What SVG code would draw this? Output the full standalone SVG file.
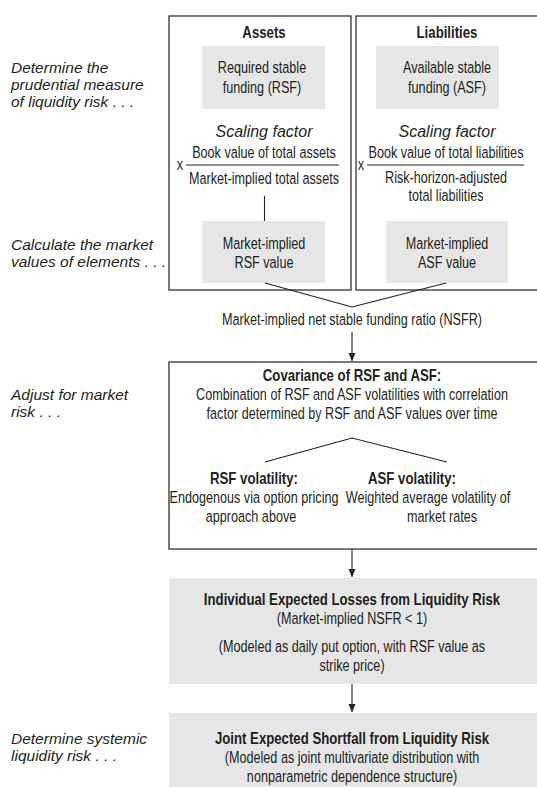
<svg xmlns="http://www.w3.org/2000/svg" width="537" height="787" viewBox="0 0 537 787">
<defs>
<style>
.t{font-family:"Liberation Sans",Arial,sans-serif;font-size:16.5px;fill:#231f20;text-anchor:middle}
.b{font-weight:bold}
.i{font-family:"Liberation Sans",Arial,sans-serif;font-style:italic;font-size:15.5px;fill:#231f20}
.si{font-family:"Liberation Sans",Arial,sans-serif;font-style:italic;font-size:16px;fill:#231f20;text-anchor:middle}
.box{fill:#fff;stroke:#231f20;stroke-width:1.2}
.g{fill:#e6e6e6}
.ln{stroke:#231f20;stroke-width:1.1;fill:none}
</style>
<marker id="ah" viewBox="0 0 8 10" refX="8" refY="5" markerWidth="8" markerHeight="10" markerUnits="userSpaceOnUse" orient="auto">
<path d="M0,1.5 L8,5 L0,8.5 Z" fill="#231f20"/>
</marker>
</defs>

<g id="labels">
<text class="i" x="11" y="73">Determine the</text>
<text class="i" x="11" y="90">prudential measure</text>
<text class="i" x="11" y="107">of liquidity risk . . .</text>
<text class="i" x="11" y="250">Calculate the market</text>
<text class="i" x="11" y="267">values of elements . . .</text>
<text class="i" x="11" y="400">Adjust for market</text>
<text class="i" x="11" y="417">risk . . .</text>
<text class="i" x="11" y="744">Determine systemic</text>
<text class="i" x="11" y="761">liquidity risk . . .</text>
</g>

<g id="assets">
<rect class="box" x="169" y="16" width="182" height="274"/>
<text class="t b" transform="translate(264,38) scale(.8,1)">Assets</text>
<g id="rsf">
<rect class="g" x="202" y="46" width="123" height="63"/>
<text class="t" transform="translate(262,73) scale(.765,1)">Required stable</text>
<text class="t" transform="translate(262,93) scale(.765,1)">funding (RSF)</text>
</g>
<text class="si" x="264" y="137">Scaling factor</text>
<text class="t" transform="translate(180,170) scale(.765,1)">x</text>
<text class="t" transform="translate(264,158) scale(.765,1)">Book value of total assets</text>
<line class="ln" x1="186" y1="165" x2="339" y2="165"/>
<text class="t" transform="translate(264,184) scale(.765,1)">Market-implied total assets</text>
<g id="rsfval">
<rect class="g" x="202" y="221" width="123" height="62"/>
<text class="t" transform="translate(264,249) scale(.765,1)">Market-implied</text>
<text class="t" transform="translate(264,268) scale(.765,1)">RSF value</text>
</g>
</g>

<g id="liabilities">
<rect class="box" x="356" y="16" width="182" height="274"/>
<text class="t b" transform="translate(447,38) scale(.8,1)">Liabilities</text>
<g id="asf">
<rect class="g" x="376" y="46" width="123" height="63"/>
<text class="t" transform="translate(447,73) scale(.765,1)">Available stable</text>
<text class="t" transform="translate(447,93) scale(.765,1)">funding (ASF)</text>
</g>
<text class="si" x="447" y="137">Scaling factor</text>
<text class="t" transform="translate(361,170) scale(.765,1)">x</text>
<text class="t" transform="translate(446,158) scale(.765,1)">Book value of total liabilities</text>
<line class="ln" x1="367" y1="165" x2="524" y2="165"/>
<text class="t" transform="translate(446,183) scale(.765,1)">Risk-horizon-adjusted</text>
<text class="t" transform="translate(446,201) scale(.765,1)">total liabilities</text>
<g id="asfval">
<rect class="g" x="386" y="221" width="122" height="62"/>
<text class="t" transform="translate(447,249) scale(.765,1)">Market-implied</text>
<text class="t" transform="translate(447,268) scale(.765,1)">ASF value</text>
</g>
</g>

<g id="nsfr">
<text class="t" transform="translate(352,325) scale(.765,1)">Market-implied net stable funding ratio (NSFR)</text>
</g>

<g id="covariance">
<rect class="box" x="169" y="362" width="369" height="187"/>
<text class="t b" transform="translate(352,381) scale(.8,1)">Covariance of RSF and ASF:</text>
<text class="t" transform="translate(352,400) scale(.765,1)">Combination of RSF and ASF volatilities with correlation</text>
<text class="t" transform="translate(352,419) scale(.765,1)">factor determined by RSF and ASF values over time</text>
<g id="rsfvol">
<text class="t b" transform="translate(254,484) scale(.8,1)">RSF volatility:</text>
<text class="t" transform="translate(254,503) scale(.765,1)">Endogenous via option pricing</text>
<text class="t" transform="translate(251,522) scale(.765,1)">approach above</text>
</g>
<g id="asfvol">
<text class="t b" transform="translate(412,484) scale(.8,1)">ASF volatility:</text>
<text class="t" transform="translate(428,503) scale(.765,1)">Weighted average volatility of</text>
<text class="t" transform="translate(442,522) scale(.765,1)">market rates</text>
</g>
</g>

<g id="individual">
<rect class="g" x="169" y="578" width="368" height="106"/>
<text class="t b" transform="translate(352,605) scale(.8,1)">Individual Expected Losses from Liquidity Risk</text>
<text class="t" transform="translate(352,624) scale(.765,1)">(Market-implied NSFR &lt; 1)</text>
<text class="t" transform="translate(352,652) scale(.765,1)">(Modeled as daily put option, with RSF value as</text>
<text class="t" transform="translate(352,671) scale(.765,1)">strike price)</text>
</g>

<g id="joint">
<rect class="g" x="169" y="713" width="368" height="74"/>
<text class="t b" transform="translate(352,744) scale(.8,1)">Joint Expected Shortfall from Liquidity Risk</text>
<text class="t" transform="translate(352,763) scale(.765,1)">(Modeled as joint multivariate distribution with</text>
<text class="t" transform="translate(352,782) scale(.765,1)">nonparametric dependence structure)</text>
</g>

<g id="connectors">
<line class="ln" x1="264.5" y1="196" x2="264.5" y2="221"/>
<polyline class="ln" points="265,283 352,307 446,283"/>
<line class="ln" x1="352" y1="332" x2="352" y2="361" marker-end="url(#ah)"/>
<polyline class="ln" points="265,462 352,438 447,462"/>
<line class="ln" x1="352" y1="549" x2="352" y2="577" marker-end="url(#ah)"/>
<line class="ln" x1="352" y1="684" x2="352" y2="712" marker-end="url(#ah)"/>
</g>
</svg>
